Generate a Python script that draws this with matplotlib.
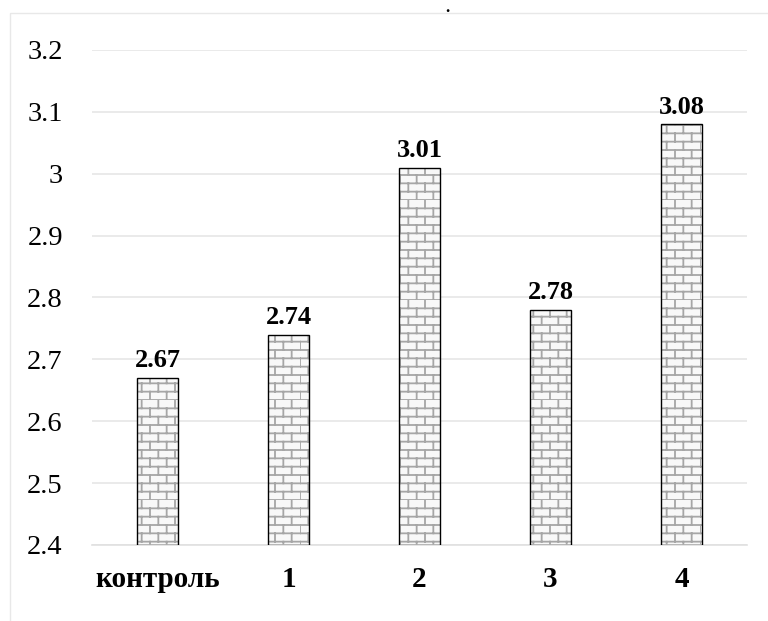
import warnings
import numpy as np
import matplotlib
matplotlib.use("Agg")
import matplotlib.pyplot as plt
from matplotlib import hatch as mhatch
from matplotlib.path import Path
from matplotlib.patches import Rectangle

warnings.filterwarnings("ignore")

categories = ["контроль", "1", "2", "3", "4"]
values = [2.67, 2.74, 3.01, 2.78, 3.08]
yticks = [2.4, 2.5, 2.6, 2.7, 2.8, 2.9, 3.0, 3.1, 3.2]
ytick_labels = ["2.4", "2.5", "2.6", "2.7", "2.8", "2.9", "3", "3.1", "3.2"]


# brick hatch ('b'), tile = 1 inch: 12 rows x 6 bricks
class BrickHatch(mhatch.HatchPatternBase):
    def __init__(self, hatch, density):
        self.rows = 12 if "b" in hatch else 0
        self.cols = 6
        self.num_vertices = self.rows * 2 + self.rows * self.cols * 2

    def set_vertices_and_codes(self, vertices, codes):
        i = 0
        for k in range(self.rows):
            y = k / self.rows
            vertices[i] = (0, y)
            vertices[i + 1] = (1, y)
            codes[i] = Path.MOVETO
            codes[i + 1] = Path.LINETO
            i += 2
        for k in range(self.rows):
            y0 = k / self.rows
            y1 = (k + 1) / self.rows
            for j in range(self.cols):
                x = (j + 0.5 * (k % 2)) / self.cols
                vertices[i] = (x, y0)
                vertices[i + 1] = (x, y1)
                codes[i] = Path.MOVETO
                codes[i + 1] = Path.LINETO
                i += 2


mhatch._hatch_types.append(BrickHatch)

plt.rcParams["font.family"] = ["Liberation Serif", "DejaVu Serif"]
plt.rcParams["hatch.linewidth"] = 1.3

fig = plt.figure(figsize=(7.68, 6.21), dpi=100)
ax = fig.add_axes([0.1198, 0.1224, 0.8529, 0.7971])

x = np.arange(len(categories))
ax.bar(x, [v - 2.4 for v in values], bottom=2.4, width=0.32,
       color="#f8f8f8", edgecolor="#a6a6a6", linewidth=0, hatch="b", zorder=2)
ax.bar(x, [v - 2.4 for v in values], bottom=2.4, width=0.32,
       fill=False, edgecolor="black", linewidth=1.0, zorder=3)

for xi, v in zip(x, values):
    ax.annotate(f"{v:.2f}", (xi, v), xytext=(0, 4), textcoords="offset points",
                ha="center", va="bottom", fontsize=19, fontweight="bold")

ax.set_xlim(-0.5, len(categories) - 0.5)
ax.set_ylim(2.4, 3.2)
ax.set_yticks(yticks)
ax.set_yticklabels(ytick_labels)
ax.set_xticks(x)
ax.set_xticklabels(categories, fontweight="bold", fontsize=21)
ax.tick_params(axis="y", length=0, pad=21, labelsize=20.5)
ax.tick_params(axis="x", length=0, pad=15)
ax.grid(axis="y", color="#e6e6e6", linewidth=1.2, zorder=0)
ax.set_axisbelow(True)
for s in ["top", "right", "left"]:
    ax.spines[s].set_visible(False)
ax.spines["bottom"].set_color("#e0e0e0")
ax.spines["bottom"].set_linewidth(1.2)

fig.patches.append(Rectangle((0.013, -0.05), 1.2, 1.029, transform=fig.transFigure,
                             fill=False, edgecolor="#e8e8e8", linewidth=1.0))
fig.text(0.583, 0.987, ".", ha="center", va="center", fontsize=12, fontweight="bold")

fig.savefig("out.png", dpi=100)
